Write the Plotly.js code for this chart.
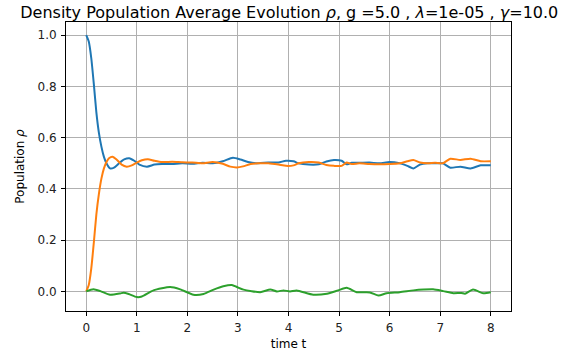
<!DOCTYPE html>
<html>
<head>
<meta charset="utf-8">
<script src="https://cdn.plot.ly/plotly-3.0.1.min.js"></script>
<style>html,body{margin:0;padding:0;background:#fff;}#chart{width:575px;height:357px;}</style>
</head>
<body>
<div id="chart"></div>
<script>
const blueT = [0,0.05,0.1,0.15,0.2,0.25,0.3,0.35,0.4,0.47,0.55,0.65,0.75,0.85,0.95,1.05,1.2,1.35,1.5,1.7,1.9,2.1,2.3,2.5,2.7,2.9,3.05,3.2,3.4,3.6,3.8,3.95,4.1,4.2,4.4,4.6,4.75,4.9,5.05,5.15,5.25,5.4,5.6,5.8,6.0,6.2,6.35,6.47,6.6,6.75,6.9,7.05,7.2,7.4,7.6,7.8,8.0];
const blueV = [1.0,0.975,0.91,0.81,0.7,0.62,0.565,0.525,0.5,0.48,0.483,0.5,0.515,0.52,0.51,0.495,0.487,0.495,0.497,0.497,0.5,0.498,0.502,0.5,0.508,0.522,0.515,0.505,0.5,0.503,0.503,0.51,0.508,0.5,0.495,0.496,0.507,0.513,0.51,0.496,0.502,0.502,0.503,0.5,0.505,0.5,0.49,0.48,0.495,0.5,0.5,0.5,0.483,0.487,0.48,0.492,0.492];

const orangeT = [0,0.05,0.1,0.15,0.2,0.25,0.3,0.35,0.4,0.45,0.52,0.6,0.7,0.8,0.9,1.0,1.1,1.22,1.35,1.5,1.7,1.9,2.1,2.3,2.5,2.7,2.85,2.98,3.1,3.25,3.4,3.6,3.8,3.95,4.1,4.2,4.4,4.6,4.75,4.9,5.05,5.15,5.25,5.4,5.6,5.8,6.0,6.2,6.35,6.47,6.6,6.75,6.9,7.05,7.2,7.4,7.6,7.8,8.0];
const orangeV = [0.0,0.025,0.09,0.19,0.3,0.38,0.44,0.48,0.505,0.52,0.526,0.515,0.495,0.487,0.492,0.503,0.512,0.516,0.51,0.505,0.506,0.504,0.503,0.5,0.505,0.498,0.487,0.484,0.488,0.497,0.5,0.5,0.495,0.49,0.492,0.5,0.505,0.503,0.493,0.49,0.49,0.503,0.497,0.5,0.497,0.496,0.497,0.5,0.508,0.513,0.503,0.5,0.502,0.5,0.518,0.513,0.518,0.508,0.508];

const greenT = [0,0.14,0.28,0.47,0.67,0.74,0.84,1.0,1.1,1.33,1.66,1.86,2.12,2.32,2.52,2.71,2.88,2.98,3.11,3.44,3.64,3.77,3.9,4.03,4.16,4.49,4.76,4.98,5.15,5.35,5.61,5.78,5.94,6.2,6.47,6.67,6.86,7.06,7.26,7.42,7.49,7.65,7.85,8.0];
const greenV = [0,0.008,0.001,-0.013,-0.008,-0.005,-0.01,-0.022,-0.02,0.004,0.017,0.008,-0.013,-0.01,0.007,0.02,0.025,0.017,0.007,-0.003,0.007,0,0.004,0,0.004,-0.013,-0.009,0.004,0.014,-0.003,-0.004,-0.016,-0.007,-0.003,0.004,0.007,0.008,0.001,-0.007,-0.006,-0.009,0.007,-0.007,-0.003];

const xTicks = [0,1,2,3,4,5,6,7,8];
const yTicks = [0.0,0.2,0.4,0.6,0.8,1.0];
const yTickLabels = ['0.0','0.2','0.4','0.6','0.8','1.0'];

const font = 'DejaVu Sans';
const traces = [
  {x: blueT, y: blueV, mode: 'lines', line: {color: '#1f77b4', width: 2, shape: 'spline', smoothing: 0.6}},
  {x: orangeT, y: orangeV, mode: 'lines', line: {color: '#ff7f0e', width: 2, shape: 'spline', smoothing: 0.6}},
  {x: greenT, y: greenV, mode: 'lines', line: {color: '#2ca02c', width: 2, shape: 'spline', smoothing: 0.6}}
];
const axisCommon = {
  showline: true, linecolor: '#000', linewidth: 1, mirror: true,
  showgrid: true, gridcolor: '#b0b0b0', gridwidth: 1,
  zeroline: false, ticks: 'outside', ticklen: 4, tickcolor: '#000', tickwidth: 1,
  tickfont: {family: font, size: 12, color: '#222'}
};
const layout = {
  width: 575, height: 357,
  margin: {l: 66, r: 64, t: 22, b: 46},
  paper_bgcolor: '#fff', plot_bgcolor: '#fff',
  showlegend: false,
  title: {text: 'Density Population Average Evolution <i>ρ</i>, g =5.0 , <i>λ</i>=1e-05 , <i>γ</i>=10.0',
          font: {family: font, size: 16, color: '#000'}, x: 0.5017, xanchor: 'center', xref: 'paper',
          y: 1 - 12/357, yref: 'container', yanchor: 'middle'},
  xaxis: Object.assign({}, axisCommon, {range: [-0.4, 8.4], tickvals: xTicks, ticklabelstandoff: 2,
          title: {text: 'time t', font: {family: font, size: 12, color: '#000'}, standoff: 5}}),
  yaxis: Object.assign({}, axisCommon, {range: [-0.0765, 1.0515], tickvals: yTicks, ticktext: yTickLabels, ticklabelstandoff: 2,
          title: {text: 'Population <i>ρ</i>', font: {family: font, size: 12, color: '#000'}, standoff: 10}})
};
Plotly.newPlot('chart', traces, layout, {displayModeBar: false, staticPlot: true});
</script>
</body>
</html>
